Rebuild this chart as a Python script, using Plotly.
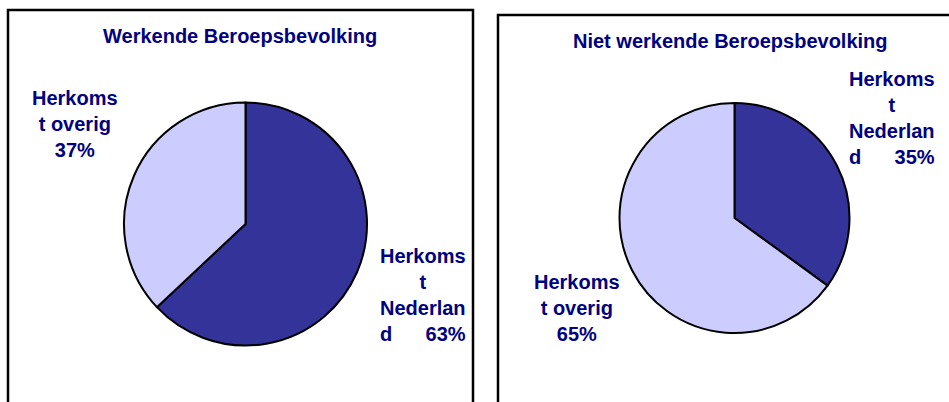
import plotly.graph_objects as go

W, H = 949, 402

categories = ["Herkomst Nederland", "Herkomst overig"]
werkend_values = [63, 37]
niet_werkend_values = [35, 65]
titles = ["Werkende Beroepsbevolking", "Niet werkende Beroepsbevolking"]
slice_colors = ["#333399", "#CCCCFF"]
text_color = "#000080"
FONT = "Liberation Sans"


def px_x(x):
    return x / W


def px_y(y):
    return 1 - y / H


def wrapped_label(cat, val):
    if cat.endswith("Nederland"):
        return "Herkoms<br>t<br>Nederlan<br>d" + "\u00a0" * 6 + f"{val}%"
    return "Herkoms<br>t overig<br>" + f"{val}%"


fig = go.Figure()

pies = [
    (werkend_values, (245.5, 224.0), 121.5),
    (niet_werkend_values, (734.5, 218.0), 115.0),
]
for vals, (cx, cy), r in pies:
    fig.add_trace(go.Pie(
        labels=categories,
        values=vals,
        sort=False,
        direction="clockwise",
        rotation=0,
        textinfo="none",
        hoverinfo="label+percent",
        marker=dict(colors=slice_colors, line=dict(color="black", width=2)),
        domain=dict(x=[px_x(cx - r), px_x(cx + r)], y=[px_y(cy + r), px_y(cy - r)]),
        showlegend=False,
    ))

# panel frames
fig.add_shape(type="rect", xref="paper", yref="paper",
              x0=px_x(8), x1=px_x(473), y0=px_y(10), y1=-0.2,
              line=dict(color="black", width=2.5), fillcolor="rgba(0,0,0,0)", layer="below")
fig.add_shape(type="rect", xref="paper", yref="paper",
              x0=px_x(498), x1=1.2, y0=px_y(15), y1=-0.2,
              line=dict(color="black", width=2.5), fillcolor="rgba(0,0,0,0)", layer="below")

font = dict(family=FONT, size=20, color=text_color, weight="bold")

# titles
for t, (x, y) in zip(titles, [(240, 36), (730, 41)]):
    fig.add_annotation(text=t, x=px_x(x), y=px_y(y), xref="paper", yref="paper",
                       showarrow=False, font=font, xanchor="center", yanchor="middle")

# slice labels
label_pos = [
    [(422.5, 295), (75, 124)],
    [(891.5, 118), (577, 308)],
]
for vals, positions in zip([werkend_values, niet_werkend_values], label_pos):
    for cat, v, (x, y) in zip(categories, vals, positions):
        fig.add_annotation(text=wrapped_label(cat, v), x=px_x(x), y=px_y(y),
                           xref="paper", yref="paper", showarrow=False, font=font,
                           align="center", xanchor="center", yanchor="middle")

fig.update_layout(
    width=W, height=H,
    margin=dict(l=0, r=0, t=0, b=0),
    paper_bgcolor="white", plot_bgcolor="white",
)

fig.write_html("out.html",
               config={"displayModeBar": False},
               post_script="document.body.style.margin='0';document.body.style.overflow='hidden';")
